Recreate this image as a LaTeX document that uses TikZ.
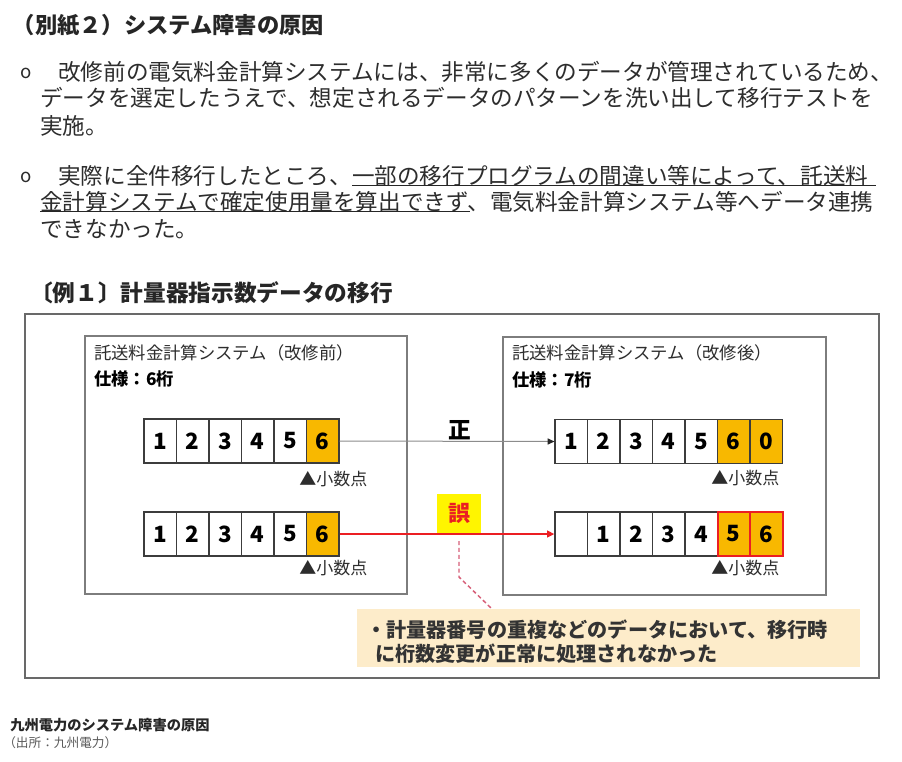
\documentclass[tikz,border=0pt]{standalone}
\usepackage{fontspec}
\setmainfont{Noto Sans CJK JP}
\usetikzlibrary{arrows.meta}
\definecolor{txt}{RGB}{45,45,45}
\definecolor{frame}{RGB}{105,105,105}
\definecolor{boxline}{RGB}{125,125,125}
\definecolor{cellline}{RGB}{60,60,60}
\definecolor{digorange}{RGB}{248,184,0}
\definecolor{errred}{RGB}{235,30,35}
\definecolor{erryellow}{RGB}{255,245,0}
\definecolor{calloutfill}{RGB}{253,236,202}
\definecolor{dashpink}{RGB}{215,95,120}
\definecolor{srcgray}{RGB}{90,90,90}
\tikzset{
  para/.style={anchor=west, inner sep=0pt, text=txt, font=\fontsize{16.95pt}{17pt}\selectfont},
  bullet/.style={anchor=west, inner sep=0pt, text=txt, font=\fontsize{14pt}{14pt}\rmfamily},
  headtxt/.style={anchor=west, inner sep=0pt, text=black!85, font=\fontsize{16.7pt}{17pt}\selectfont\bfseries},
  boxtitle/.style={anchor=west, inner sep=0pt, text=txt, font=\fontsize{13pt}{13pt}\selectfont},
  spectxt/.style={anchor=west, inner sep=0pt, text=black, font=\fontsize{13pt}{13pt}\selectfont\bfseries},
  pointlab/.style={anchor=west, inner sep=0pt, text=txt, font=\fontsize{12.75pt}{13pt}\selectfont},
  cell/.style={draw=cellline, line width=0.9pt, inner sep=0pt, minimum width=24.375pt, minimum height=33pt, text=black, font=\fontsize{16.8pt}{16.8pt}\selectfont\bfseries},
  redcell/.style={cell, draw=errred, line width=1.5pt},
  sysbox/.style={draw=boxline, line width=1.1pt},
  grayarrow/.style={draw=black!45, line width=0.75pt, -{Triangle[length=5pt,width=4.5pt,color=black!85]}},
  redarrow/.style={draw=errred, line width=1.7pt, -{Triangle[length=5.5pt,width=5pt]}},
  dashline/.style={draw=dashpink, line width=1.1pt, dash pattern=on 3pt off 2.2pt},
  callouttxt/.style={anchor=west, inner sep=0pt, text=black!80, font=\fontsize{15.1pt}{15pt}\selectfont\bfseries}
}
\begin{document}
\begin{tikzpicture}[x=0.75pt,y=-0.75pt]
\useasboundingbox[fill=white] (0,0) rectangle (902,761);
% title
\node[headtxt] (title) at (12.5,25) {（別紙２）システム障害の原因};
% paragraph 1
\node[bullet] (b1) at (20,73) {o};
\node[para] (p1a) at (58,72) {改修前の電気料金計算システムには、非常に多くのデータが管理されているため、};
\node[para] (p1b) at (40,98) {データを選定したうえで、想定されるデータのパターンを洗い出して移行テストを};
\node[para] (p1c) at (40,126) {実施。};
% paragraph 2
\node[bullet] (b2) at (20,177) {o};
\node[para] (p2a) at (58,176) {実際に全件移行したところ、一部の移行プログラムの間違い等によって、託送料};
\node[para] (p2b) at (40,202) {金計算システムで確定使用量を算出できず、電気料金計算システム等へデータ連携};
\node[para] (p2c) at (40,229) {できなかった。};
\draw[line width=1.1pt, black!85] (352,185.5) -- (876,185.5);
\draw[line width=1.1pt, black!85] (40,211.5) -- (470,211.5);
% example heading
\node[headtxt, font=\fontsize{17pt}{17pt}\selectfont\bfseries] (ex) at (30,293) {〔例１〕計量器指示数データの移行};
% outer frame
\draw[draw=frame, line width=1.5pt] (25,314) rectangle (879,678);
% system boxes
\draw[sysbox] (85,336) rectangle (407,594);
\draw[sysbox] (503,337) rectangle (826,595);
\node[boxtitle] (lt) at (94,353) {託送料金計算システム（改修前）};
\node[spectxt] (ls) at (94,379) {仕様：6桁};
\node[boxtitle] (rt) at (512,353) {託送料金計算システム（改修後）};
\node[spectxt] (rs) at (512,380) {仕様：7桁};
% left rows
\foreach \d/\f [count=\i] in {1/white,2/white,3/white,4/white,5/white,6/digorange}{
  \node[cell, fill=\f] (La\i) at ({144+32.5*(\i-0.5)},441) {\d};
  \node[cell, fill=\f] (Lb\i) at ({144+32.5*(\i-0.5)},534) {\d};
}
% right rows
\foreach \d/\f [count=\i] in {1/white,2/white,3/white,4/white,5/white,6/digorange,0/digorange}{
  \node[cell, fill=\f] (Ra\i) at ({555+32.5*(\i-0.5)},441.5) {\d};
}
\node[cell, fill=white] (Rb1) at ({555+32.5*0.5},534) {};
\foreach \d [count=\j from 2] in {1,2,3,4}{
  \node[cell, fill=white] (Rb\j) at ({555+32.5*(\j-0.5)},534) {\d};
}
\node[redcell, fill=digorange] (Rb6) at ({555+32.5*5.5},534) {5};
\node[redcell, fill=digorange] (Rb7) at ({555+32.5*6.5},534) {6};
% decimal point labels
\node[pointlab] (lpa) at (299,479) {▲小数点};
\node[pointlab] (lpb) at (299,568) {▲小数点};
\node[pointlab] (rpa) at (711,478) {▲小数点};
\node[pointlab] (rpb) at (711,568) {▲小数点};
% arrows
\draw[grayarrow] (La6.east) -- (Ra1.west);
\draw[redarrow] (Lb6.east) -- (Rb1.west);
\node[inner sep=0pt, text=black, font=\fontsize{17pt}{17pt}\selectfont\bfseries] (ok) at (460,430) {正};
\node[fill=erryellow, inner sep=0pt, minimum width=33pt, minimum height=29pt, text=errred, font=\fontsize{16.5pt}{16.5pt}\selectfont\bfseries] (err) at (459,513.5) {誤};
% dashed leader
\coordinate (d0) at (459,541);
\coordinate (d1) at (459,577);
\coordinate (d2) at (491,608);
\draw[dashline] (d0) -- (d1) -- (d2);
% callout
\fill[calloutfill] (357,609) rectangle (860,667);
\node[callouttxt] (c1) at (366,630) {・計量器番号の重複などのデータにおいて、移行時};
\node[callouttxt] (c2) at (375,654) {に桁数変更が正常に処理されなかった};
% caption
\node[anchor=west, inner sep=0pt, text=black!85, font=\fontsize{10.7pt}{11pt}\selectfont\bfseries] (cap) at (10,725) {九州電力のシステム障害の原因};
\node[anchor=west, inner sep=0pt, text=srcgray, font=\fontsize{9.5pt}{10pt}\selectfont] (src) at (3,743) {（出所：九州電力）};
\end{tikzpicture}
\end{document}
